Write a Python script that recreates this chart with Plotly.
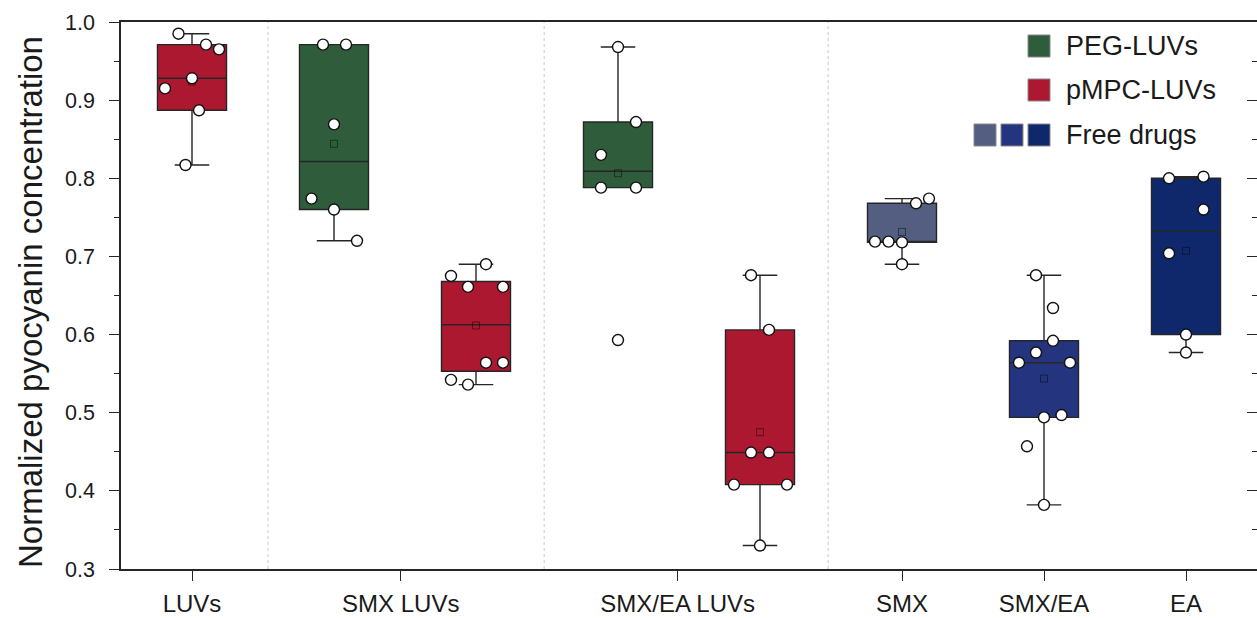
import numpy as np
import plotly.graph_objects as go

# ---------------- data ----------------
categories = ["LUVs", "SMX LUVs", "SMX/EA LUVs", "SMX", "SMX/EA", "EA"]
legend_labels = ["PEG-LUVs", "pMPC-LUVs", "Free drugs"]
y_title = "Normalized pyocyanin concentration"

luvs_pmpc = [0.985, 0.971, 0.965, 0.928, 0.915, 0.887, 0.817]
smx_luvs_peg = [0.971, 0.971, 0.869, 0.774, 0.760, 0.720]
smx_luvs_pmpc = [0.690, 0.675, 0.661, 0.661, 0.564, 0.564, 0.542, 0.536]
smxea_luvs_peg = [0.968, 0.872, 0.830, 0.788, 0.788, 0.593]
smxea_luvs_pmpc = [0.676, 0.606, 0.449, 0.449, 0.408, 0.408, 0.330]
smx_free = [0.774, 0.768, 0.719, 0.719, 0.718, 0.690]
smxea_free = [0.676, 0.634, 0.592, 0.577, 0.564, 0.564, 0.497, 0.494, 0.457, 0.382]
ea_free = [0.800, 0.802, 0.760, 0.704, 0.600, 0.577]

# ---------------- styling / positions ----------------
SLOT_PX = 142.0  # pixels per x unit
PEG = "#2f5d3b"
PMPC = "#ad1831"
FREE1 = "#535e80"
FREE2 = "#24347f"
FREE3 = "#0f286c"

# jitter offsets of the points (pixels from box centre)
jit_luvs = [-13.5, 14, 27, 0, -27, 7, -6.5]
jit_smx_peg = [-11, 12, 0, -22.5, 0, 23]
jit_smx_pmpc = [10, -25, -8, 27, 10, 27, -25, -8]
jit_smxea_peg = [0, 18, -17, -17, 18, 0]
jit_smxea_pmpc = [-9, 9, -9, 9, -26, 27, 0]
jit_smx_free = [27, 14, -13.5, -27, 0, 0]
jit_smxea_free = [-8, 9, 9, -8, -25, 26, 17.5, 0, -17, 0]
jit_ea_free = [-17, 17.5, 17.5, -17, 0, 0]

groups = [
    (0, luvs_pmpc, jit_luvs, PMPC),
    (1, smx_luvs_peg, jit_smx_peg, PEG),
    (2, smx_luvs_pmpc, jit_smx_pmpc, PMPC),
    (3, smxea_luvs_peg, jit_smxea_peg, PEG),
    (4, smxea_luvs_pmpc, jit_smxea_pmpc, PMPC),
    (5, smx_free, jit_smx_free, FREE1),
    (6, smxea_free, jit_smxea_free, FREE2),
    (7, ea_free, jit_ea_free, FREE3),
]

tick_positions = [0, 1.47, 3.42, 5, 6, 7]
separators = [0.535, 2.48, 4.48]

W, H = 1257, 618
ML, MR, MT, MB = 121, 0, 22, 49
PW = W - ML - MR
PH = H - MT - MB


def xp(px):
    return (px - ML) / PW


def yp(py):
    return (H - MB - py) / PH


FONT = "Liberation Sans, Arial, sans-serif"
TXT = "#1a1a1a"
AX = "#262626"

fig = go.Figure()

# boxes
for pos, vals, jit, col in groups:
    fig.add_trace(go.Box(
        x=[pos] * len(vals), y=vals,
        width=0.486,
        quartilemethod="exclusive",
        boxpoints="outliers",
        marker=dict(opacity=0, size=1),
        fillcolor=col,
        line=dict(color="#262626", width=1.4),
        whiskerwidth=0.5,
        showlegend=False,
        hoverinfo="skip",
    ))

# mean markers
for pos, vals, jit, col in groups:
    fig.add_trace(go.Scatter(
        x=[pos], y=[float(np.mean(vals))],
        mode="markers",
        marker=dict(symbol="square-open", size=7, color="rgba(0,0,0,0.45)",
                    line=dict(width=1)),
        showlegend=False, hoverinfo="skip",
    ))

# data points
for pos, vals, jit, col in groups:
    fig.add_trace(go.Scatter(
        x=[pos + j / SLOT_PX for j in jit], y=vals,
        mode="markers",
        marker=dict(symbol="circle", size=11, color="white",
                    line=dict(color="#111111", width=1.4)),
        showlegend=False, hoverinfo="skip",
    ))

# invisible trace for right (mirror) axis
fig.add_trace(go.Scatter(x=[0], y=[0.5], yaxis="y2", mode="markers",
                         marker=dict(opacity=0), showlegend=False,
                         hoverinfo="skip"))

shapes = []
for s in separators:
    shapes.append(dict(type="line", xref="x", yref="paper", x0=s, x1=s,
                       y0=0, y1=1, line=dict(color="#c8c8c8", width=1, dash="dot"),
                       layer="below"))

# legend (manual)
legend_rows = [
    (46, [PEG], legend_labels[0]),
    (90, [PMPC], legend_labels[1]),
    (135, [FREE1, FREE2, FREE3], legend_labels[2]),
]
SQ = 22
annotations = []
for cy, cols, label in legend_rows:
    n = len(cols)
    for i, c in enumerate(cols):
        x1 = 1050 - (n - 1 - i) * 27
        x0 = x1 - SQ
        shapes.append(dict(type="rect", xref="paper", yref="paper",
                           x0=xp(x0), x1=xp(x1), y0=yp(cy + SQ / 2), y1=yp(cy - SQ / 2),
                           fillcolor=c, line=dict(color="#8a8a8a", width=1)))
    annotations.append(dict(xref="paper", yref="paper", x=xp(1064), y=yp(cy),
                            xanchor="left", yanchor="middle", showarrow=False,
                            text=label, font=dict(family=FONT, size=27, color=TXT)))

annotations.append(dict(xref="paper", yref="paper", x=xp(30), y=yp(302),
                        xanchor="center", yanchor="middle", showarrow=False,
                        textangle=-90, text=y_title,
                        font=dict(family=FONT, size=33, color=TXT)))

fig.update_layout(
    width=W, height=H,
    margin=dict(l=ML, r=MR, t=MT, b=MB, pad=0),
    paper_bgcolor="white", plot_bgcolor="white",
    boxmode="overlay",
    showlegend=False,
    shapes=shapes,
    annotations=annotations,
    xaxis=dict(
        range=[-0.5, 7.5], automargin=False,
        tickvals=tick_positions, ticktext=categories,
        ticks="outside", ticklen=10, tickwidth=1.4, tickcolor=AX,
        ticklabelstandoff=2,
        showline=True, linecolor=AX, linewidth=1.5, mirror=True,
        showgrid=False, zeroline=False,
        tickfont=dict(family=FONT, size=24, color=TXT),
    ),
    yaxis=dict(
        range=[0.3, 1.0], dtick=0.1, tick0=0.3, tickformat=".1f", automargin=False,
        ticks="outside", ticklen=10, tickwidth=1.4, tickcolor=AX,
        ticklabelstandoff=10,
        minor=dict(dtick=0.05, ticks="outside", ticklen=5, tickwidth=1.4,
                   tickcolor=AX, showgrid=False),
        showline=True, linecolor=AX, linewidth=1.5,
        showgrid=False, zeroline=False,
        tickfont=dict(family=FONT, size=21.5, color=TXT),
    ),
    yaxis2=dict(
        overlaying="y", side="right", range=[0.3, 1.0], dtick=0.1, tick0=0.3,
        ticks="inside", ticklen=10, tickwidth=1.4, tickcolor=AX, automargin=False,
        minor=dict(dtick=0.05, ticks="inside", ticklen=5, tickwidth=1.4,
                   tickcolor=AX, showgrid=False),
        showticklabels=False, showline=False, showgrid=False, zeroline=False,
    ),
)

fig.write_html(
    "out.html",
    config={"displayModeBar": False},
    post_script="document.body.style.margin='0';document.body.style.overflow='hidden';",
)
